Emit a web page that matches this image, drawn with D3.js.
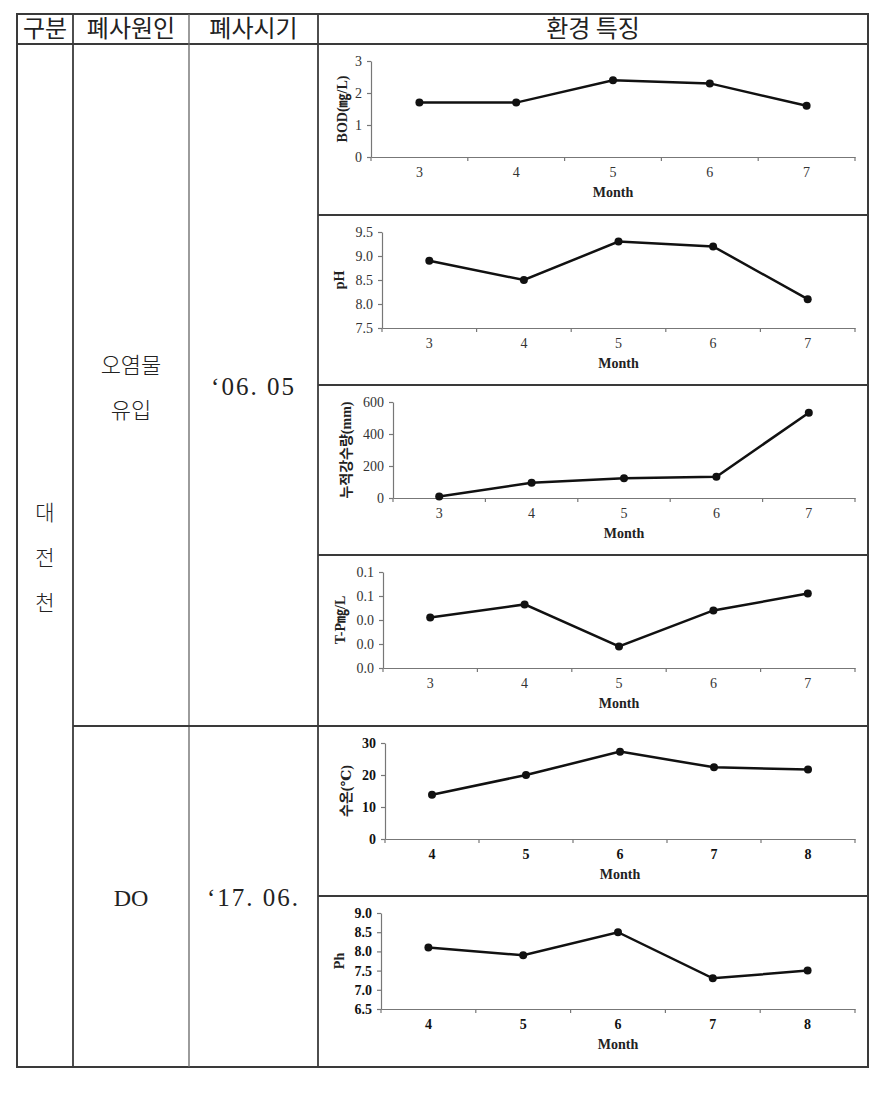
<!DOCTYPE html>
<html><head><meta charset="utf-8">
<script src="https://cdn.jsdelivr.net/npm/d3@7"></script>
<style>
html,body{margin:0;padding:0;background:#fff;}
svg{display:block;}
</style></head>
<body>
<svg id="c" width="882" height="1094"></svg>
<script>
// ---------- data ----------
const headerLabels = ["구분", "폐사원인", "폐사시기", "환경 특징"];
const riverLabel = ["대", "전", "천"];
const causeLabels = [["오염물", "유입"], ["DO"]];
const dateLabels = ["‘06. 05", "‘17. 06."];

const monthsA = ["3", "4", "5", "6", "7"];
const monthsB = ["4", "5", "6", "7", "8"];

const bodValues = [1.7, 1.7, 2.4, 2.3, 1.6];
const bodTicks = [0, 1, 2, 3];

const phValues = [8.9, 8.5, 9.3, 9.2, 8.1];
const phTicks = [7.5, 8.0, 8.5, 9.0, 9.5];

const rainValues = [10, 95, 123, 133, 533];
const rainTicks = [0, 200, 400, 600];

const tpValues = [0.042, 0.053, 0.018, 0.048, 0.062];
const tpTicks = [0, 0.02, 0.04, 0.06, 0.08];

const tempValues = [13.8, 20.0, 27.3, 22.4, 21.7];
const tempTicks = [0, 10, 20, 30];

const ph2Values = [8.1, 7.9, 8.5, 7.3, 7.5];
const ph2Ticks = [6.5, 7.0, 7.5, 8.0, 8.5, 9.0];

const yTitles = ["BOD(㎎/L)", "pH", "누적강수량(mm)", "T-P㎎/L", "수온(℃)", "Ph"];
const xTitle = "Month";

// ---------- layout ----------
const svg = d3.select("#c");
const T = {left: 17, right: 868, top: 14, bottom: 1067, head: 44};
const colX = [73, 189, 318];
const cellTops = [44, 215, 385, 555, 726, 896];
const lineCol = "#3a3a3a";

const charts = [
  {cats: monthsA, vals: bodValues, ticks: bodTicks, fmt: d3.format("d"), axisX: 371, titleX: 343, bold: false},
  {cats: monthsA, vals: phValues, ticks: phTicks, fmt: d3.format(".1f"), axisX: 382, titleX: 340, bold: false},
  {cats: monthsA, vals: rainValues, ticks: rainTicks, fmt: d3.format("d"), axisX: 393, titleX: 347, bold: false},
  {cats: monthsA, vals: tpValues, ticks: tpTicks, fmt: d3.format(".1f"), axisX: 383, titleX: 341, bold: false},
  {cats: monthsB, vals: tempValues, ticks: tempTicks, fmt: d3.format("d"), axisX: 385, titleX: 347, bold: true},
  {cats: monthsB, vals: ph2Values, ticks: ph2Ticks, fmt: d3.format(".1f"), axisX: 381, titleX: 340, bold: true}
];

// ---------- table lines ----------
const g = svg.append("g");
g.append("rect").attr("x", T.left).attr("y", T.top)
  .attr("width", T.right - T.left).attr("height", T.bottom - T.top)
  .attr("fill", "none").attr("stroke", lineCol).attr("stroke-width", 2);
g.append("line").attr("x1", T.left).attr("x2", T.right).attr("y1", T.head).attr("y2", T.head)
  .attr("stroke", lineCol).attr("stroke-width", 2);
colX.forEach((x, i) => {
  g.append("line").attr("x1", x).attr("x2", x).attr("y1", T.top).attr("y2", T.bottom)
    .attr("stroke", i === 1 ? "#666" : lineCol).attr("stroke-width", i === 1 ? 1.3 : 1.8);
});
cellTops.slice(1).forEach(y => {
  g.append("line").attr("x1", y === 726 ? colX[0] : colX[2]).attr("x2", T.right)
    .attr("y1", y).attr("y2", y).attr("stroke", lineCol).attr("stroke-width", 1.8);
});

// ---------- table text ----------
const korFont = "Noto Sans CJK KR";
const serifFont = "'Liberation Serif', 'DejaVu Serif', 'Noto Sans CJK KR', serif";
const headerCenters = [(T.left + colX[0]) / 2, (colX[0] + colX[1]) / 2, (colX[1] + colX[2]) / 2, (colX[2] + T.right) / 2];
headerLabels.forEach((t, i) => {
  g.append("text").attr("x", headerCenters[i]).attr("y", 37)
    .attr("text-anchor", "middle").style("font-family", korFont).style("font-weight", 400)
    .style("font-size", "24px").attr("fill", "#222").text(t);
});
riverLabel.forEach((t, i) => {
  g.append("text").attr("x", headerCenters[0]).attr("y", 520 + i * 45)
    .attr("text-anchor", "middle").style("font-family", korFont).style("font-weight", 300)
    .style("font-size", "21px").attr("fill", "#222").text(t);
});
causeLabels[0].forEach((t, i) => {
  g.append("text").attr("x", headerCenters[1]).attr("y", 373 + i * 45)
    .attr("text-anchor", "middle").style("font-family", korFont).style("font-weight", 300)
    .style("font-size", "22px").attr("fill", "#222").text(t);
});
g.append("text").attr("x", headerCenters[1]).attr("y", 906)
  .attr("text-anchor", "middle").style("font-family", serifFont)
  .style("font-size", "24px").attr("fill", "#222").text(causeLabels[1][0]);
[395, 906].forEach((y, i) => {
  g.append("text").attr("x", headerCenters[2]).attr("y", y)
    .attr("text-anchor", "middle").style("font-family", serifFont)
    .style("font-size", "25px").style("letter-spacing", "2px").attr("fill", "#222").text(dateLabels[i]);
});

// ---------- charts ----------
const axisEnd = 855;
charts.forEach((c, k) => {
  const top = cellTops[k];
  const y0 = top + 113, y1 = top + 17;
  const x = d3.scaleBand().domain(c.cats).range([c.axisX, axisEnd]);
  const y = d3.scaleLinear().domain([c.ticks[0], c.ticks[c.ticks.length - 1]]).range([y0, y1]);
  const cg = svg.append("g");
  const tickFill = c.bold ? "#111" : "#333";
  const weight = c.bold ? "bold" : "normal";

  // x axis
  const xa = cg.append("g").attr("transform", `translate(0,${y0})`)
    .call(d3.axisBottom(x).tickSize(0).tickPadding(10));
  xa.attr("font-family", null).attr("font-size", null);
  xa.select(".domain").attr("stroke", "#777").attr("stroke-width", 1.2);
  xa.selectAll("text").style("font-family", serifFont).style("font-size", "14px")
    .style("font-weight", weight).attr("fill", tickFill);
  // boundary ticks (between categories)
  const bounds = c.cats.map(d => x(d)).concat([axisEnd]);
  cg.selectAll(".bt").data(bounds).enter().append("line")
    .attr("x1", d => d).attr("x2", d => d).attr("y1", y0).attr("y2", y0 + 4)
    .attr("stroke", "#777").attr("stroke-width", 1.2);

  // y axis
  const ya = cg.append("g").attr("transform", `translate(${c.axisX},0)`)
    .call(d3.axisLeft(y).tickValues(c.ticks).tickFormat(c.fmt).tickSize(4).tickPadding(5).tickSizeOuter(0));
  ya.attr("font-family", null).attr("font-size", null);
  ya.select(".domain").attr("stroke", "#777").attr("stroke-width", 1.2);
  ya.selectAll(".tick line").attr("stroke", "#777").attr("stroke-width", 1.2);
  ya.selectAll("text").style("font-family", serifFont).style("font-size", "14px")
    .style("font-weight", weight).attr("fill", tickFill);

  // titles
  cg.append("text").attr("x", (c.axisX + axisEnd) / 2).attr("y", top + 153)
    .attr("text-anchor", "middle").style("font-family", serifFont).style("font-weight", "bold")
    .style("font-size", "14px").attr("fill", "#222").text(xTitle);
  cg.append("text").attr("transform", `translate(${c.titleX + 4},${(y0 + y1) / 2}) rotate(-90)`)
    .attr("text-anchor", "middle").style("font-family", serifFont).style("font-weight", "bold")
    .style("font-size", "14px").attr("fill", "#222").text(yTitles[k]);

  // line + points
  const line = d3.line().x((d, i) => x(c.cats[i]) + x.bandwidth() / 2).y(d => y(d));
  cg.append("path").datum(c.vals).attr("d", line)
    .attr("fill", "none").attr("stroke", "#111").attr("stroke-width", 2.5);
  cg.selectAll("circle").data(c.vals).enter().append("circle")
    .attr("cx", (d, i) => x(c.cats[i]) + x.bandwidth() / 2).attr("cy", d => y(d))
    .attr("r", 4).attr("fill", "#111");
});
</script>
</body></html>
